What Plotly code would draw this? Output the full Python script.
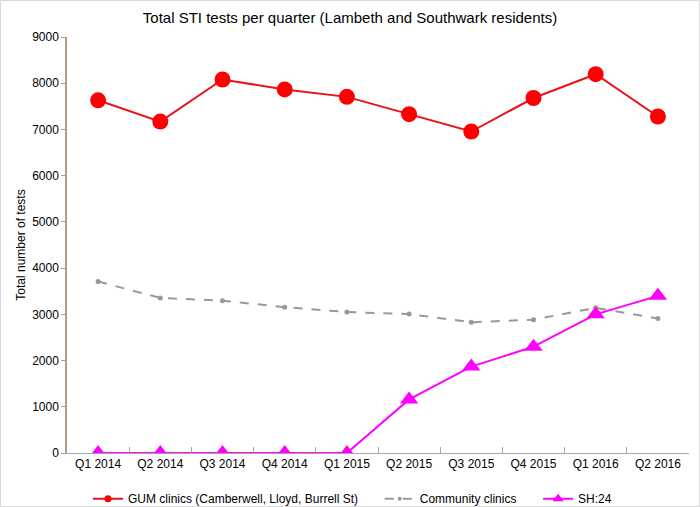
import plotly.graph_objects as go

quarters = ["Q1 2014", "Q2 2014", "Q3 2014", "Q4 2014", "Q1 2015",
            "Q2 2015", "Q3 2015", "Q4 2015", "Q1 2016", "Q2 2016"]
gum = [7630, 7170, 8080, 7865, 7705, 7330, 6955, 7680, 8195, 7280]
community = [3710, 3355, 3295, 3155, 3050, 3005, 2830, 2885, 3140, 2910]
sh24 = [0, 0, 0, 0, 0, 1160, 1870, 2300, 3000, 3400]
names = ["GUM clinics (Camberwell, Lloyd, Burrell St)", "Community clinics", "SH:24"]

font_family = "Liberation Sans, Arial, sans-serif"
NB = "\u00a0"

styles = [
    dict(line=dict(color="#e8141c", width=2), marker=dict(symbol="circle", size=16, color="#ff0000"),
         leg_marker=dict(symbol="circle", size=7, color="#ff0000"), pad=5),
    dict(line=dict(color="#999999", width=2, dash="dash"), marker=dict(symbol="circle", size=5, color="#999999"),
         leg_marker=dict(symbol="circle", size=4, color="#999999"), pad=5),
    dict(line=dict(color="#ff00ff", width=2), marker=dict(symbol="triangle-up", size=16, color="#ff00ff"),
         leg_marker=dict(symbol="triangle-up", size=10, color="#ff00ff"), pad=0),
]

fig = go.Figure()
for name, vals, st in zip(names, [gum, community, sh24], styles):
    fig.add_trace(go.Scatter(
        x=quarters, y=vals, name=name, mode="lines+markers",
        line=st["line"], marker=st["marker"], showlegend=False,
    ))
for name, st in zip(names, styles):
    fig.add_trace(go.Scatter(
        x=[None], y=[None], name=name + NB * st["pad"], mode="lines+markers",
        line=st["line"], marker=st["leg_marker"], showlegend=True,
    ))

fig.update_layout(
    width=700, height=507,
    margin=dict(l=67, r=11, t=37, b=54, autoexpand=False),
    paper_bgcolor="white", plot_bgcolor="white",
    font=dict(family=font_family, size=12, color="black"),
    title=dict(text="Total STI tests per quarter (Lambeth and Southwark residents)",
               x=0.5, xanchor="center", y=0.965, yanchor="middle",
               font=dict(size=15, family=font_family, color="black")),
    showlegend=True,
    legend=dict(orientation="h", x=(88 - 67) / 622, xanchor="left", y=-0.075, yanchor="top",
                font=dict(size=12, family=font_family), itemwidth=30,
                tracegroupgap=0, bgcolor="rgba(0,0,0,0)"),
    xaxis=dict(
        type="category", range=[-0.5, 9.5],
        showline=True, linecolor="#a6a6a6", linewidth=1,
        ticks="inside", ticklen=6, tickcolor="#a6a6a6", tickson="boundaries",
        showgrid=False, zeroline=False,
        tickfont=dict(size=12, family=font_family),
    ),
    yaxis=dict(
        range=[0, 9000], dtick=1000,
        showline=True, linecolor="#b39c80", linewidth=1.5,
        ticks="outside", ticklen=4, tickcolor="#b39c80",
        showgrid=False, zeroline=False,
        tickfont=dict(size=12, family=font_family),
        title=dict(text="Total number of tests", font=dict(size=12, family=font_family),
                   standoff=4),
    ),
    shapes=[dict(type="rect", xref="paper", yref="paper",
                 x0=-66.5 / 622, x1=1 + 10.5 / 622, y0=-53.5 / 416, y1=1 + 36.5 / 416,
                 line=dict(color="#d9d9d9", width=1), layer="below")],
)

fig.write_html("out.html", config={"displayModeBar": False},
               post_script="document.body.style.margin='0';document.body.style.padding='0';")
